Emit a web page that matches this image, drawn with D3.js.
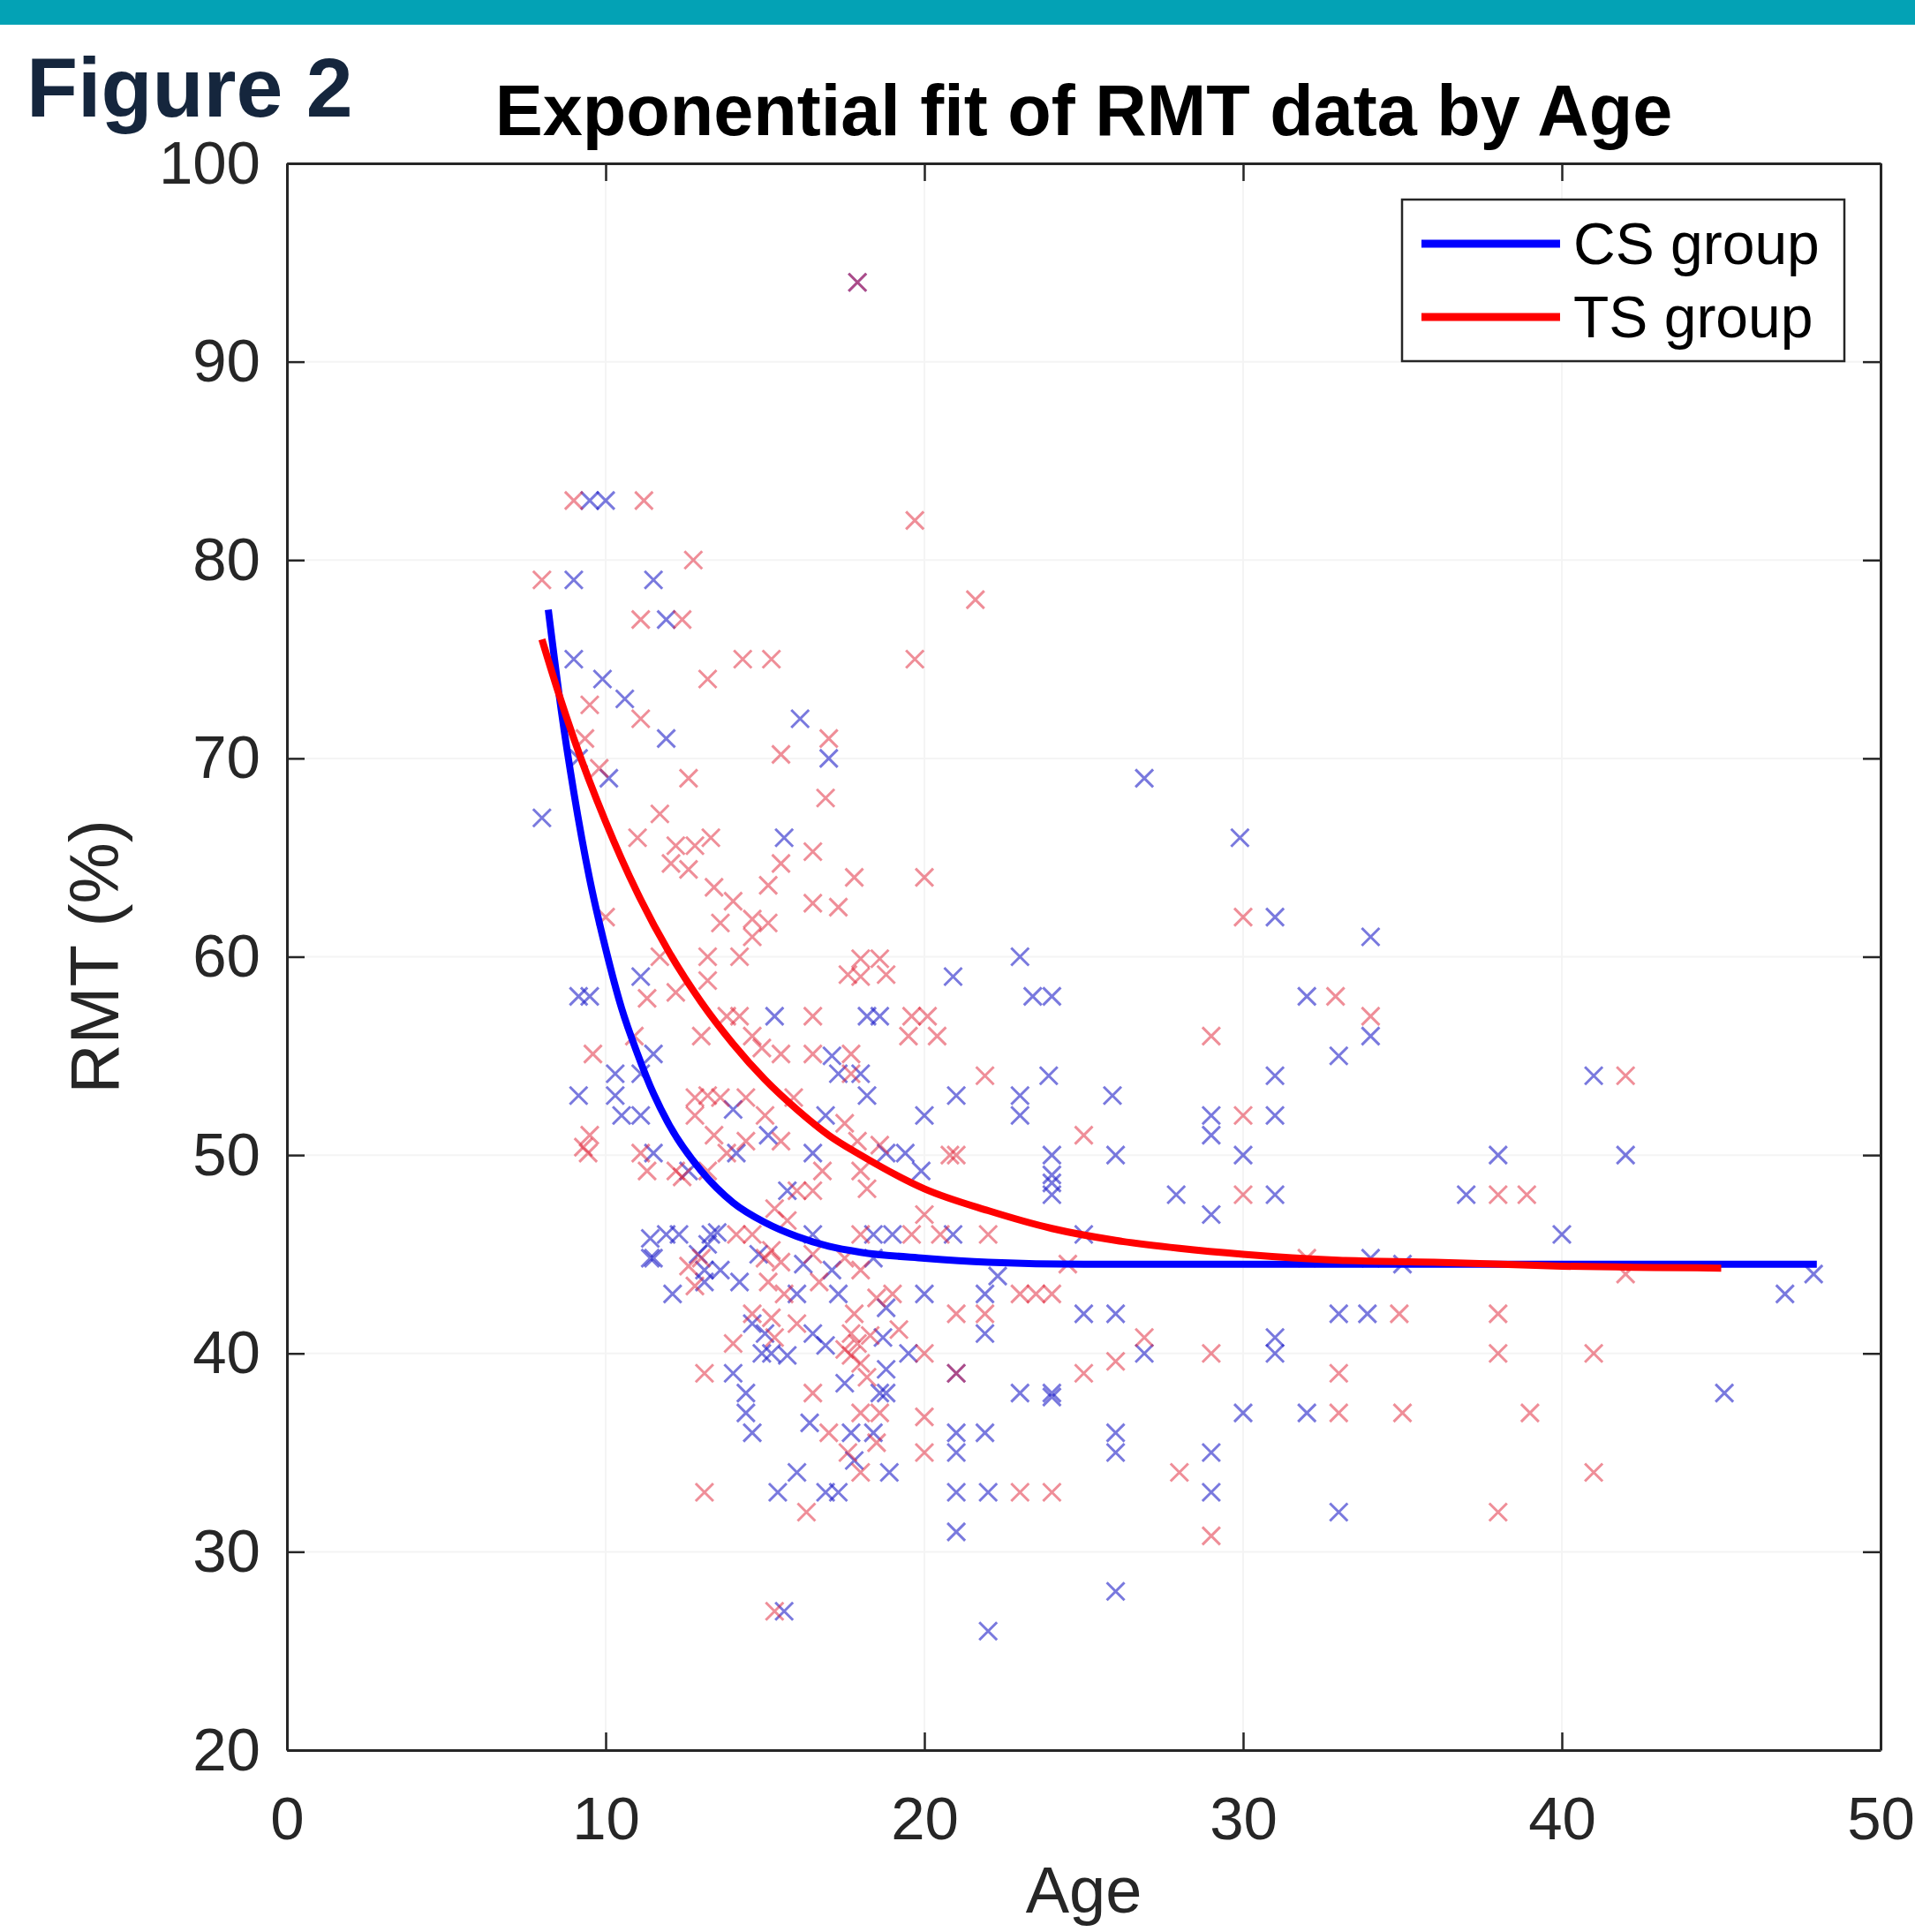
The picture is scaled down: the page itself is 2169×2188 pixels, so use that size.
<!DOCTYPE html>
<html>
<head>
<meta charset="utf-8">
<script src="https://cdn.jsdelivr.net/npm/d3@7"></script>
<style>
  body { margin: 0; background: #fff; }
  text { font-family: "Liberation Sans", Arial, Helvetica, sans-serif; }
</style>
</head>
<body>
<svg id="chart"></svg>
<script>
// ---- data
var xTicks = [0, 10, 20, 30, 40, 50]
var yTicks = [20, 30, 40, 50, 60, 70, 80, 90, 100]
var seriesNames = ["CS group", "TS group"]

// CS group scatter (age, RMT %)
var csAge = [17.9,9.5,10.0,9.0,11.5,11.9,9.0,9.9,10.6,9.15,10.1,11.9,16.1,17.0,26.9,8.0,15.6,11.1,9.15,9.5,15.3,18.2,18.6,20.9,23,23.4,24,29.9,31,32,34,34,33,31,31,29,29,30,31,27.9,29,41,42,38,37,40,35,47,47.9,33,33.9,32,30,31,31,45.1,33,29,29,26.9,26,26,25,26,24,24,23,22,22,21,21,21,21.9,21,21,21.9,21.9,24,24,24,24,23.9,23,23,25.9,26,25,21,20.9,20,19.9,20,18.9,17.3,16.9,16,15.4,15.6,14,14.4,14.4,14.6,14.9,15,14.6,15.7,16.5,16.9,18.7,18.8,18.6,18.8,17.7,18.4,18.8,17.3,16,14.2,13.6,13.1,13.1,12.1,11.5,11.4,11.9,12.3,11.4,13.5,13.3,16.5,18.4,19,18.4,17.1,18.8,19.4,16.5,15.7,16.9,17.3,18,17.1,18.2,14,14.1,15.1,12.6,11.5,10.3,10.5,11.1,9.15,10.3,11.5,11.1,22.3,26,34,12.9,13.2,15.2,17.5,19.5,14.8,16.2,16.4,17.8]
var csRMT = [94,83,83,79,79,77,75,74,73,70,69,71,72,70,69,67,66,59,58,58,57,57,57,59,60,58,58,66,62,58,61,56,55,54,52,52,51,50,48,48,47,54,50,50,48,46,44.5,43,44,42,42,37,37,40.8,40,38,32,35,33,40,36,35,42,28,38,37.8,38,33,26,33,31,36,36,35,39,41,43,48,48.6,49,50,54,53,52,53,50,46,53,46,52,49.2,43,34,33,33,34,33,27,39,38,37,36,40,41,41.5,39.9,41,40.4,40.8,39.2,38,38,36,36,42.3,43,43,43.6,44.2,43.6,44.2,43,44.8,45.8,46,46,44.8,46.1,46,46,46,46,44.8,44.2,50.1,50.1,50.1,48.2,52,54.1,54.1,55,53,52.3,50.1,51,49.2,50.1,53,52,52,53,54.1,55.1,54.1,43.9,42,44.8,45,45.5,40,38.5,40,45,44.5,36.5,34.6]

// TS group scatter (age, RMT %)
var tsAge = [17.9,9.0,11.2,19.7,8.0,12.75,11.1,12.4,21.6,13.2,14.3,15.2,19.7,11.1,9.5,9.35,12.6,17.0,15.5,16.9,16.5,17.8,20,11.7,12.2,12.8,12.05,12.6,13.3,13.4,14.0,14.6,15.1,13.6,14.2,13.2,12.2,13.2,14.2,13.8,14.6,15.5,15.1,16.5,17.3,18,18.6,18.8,18,17.6,19.6,20.1,19.5,20.4,16.5,30,32.9,34,29,30,30,42,38,38.9,34.9,38,38,41,39,35,33,33,41,38,29,28,29,26.9,26,25,24,23,21,21,21.9,23,23.5,24,25,21.9,21,20.8,20.5,20,20,20,18,17.6,16.3,15.3,13.1,13.1,15.3,15.2,14.6,16.5,17.7,17.7,17.9,18,17.5,18.3,18.2,17.8,18.6,18,18.5,16.7,15.6,15.1,13,12.6,12.8,14.1,14.6,15,15.2,15.5,18,19.6,17.5,18,16.5,18,18.2,18.6,17.9,17.5,16.8,16,16.5,15.3,15.7,17.7,17.7,16.5,15.5,14.6,14.9,15.9,14.4,13.6,13.2,12.8,12.8,13.4,13.8,14.4,15,15.5,12.2,12.4,13.2,11.3,11.1,9.5,9.45,9.3,9.6,10.9,11.3,32,42,24.5,14,16,19,20,22,10,13,11.7,9.8,11,18.5,17,19.2]
var tsRMT = [94,83,83,82,79,80,77,77,78,74,75,75,75,72,72.7,71,69,71,70.2,68,65.3,64,64,67.2,65.6,65.6,64.7,64.4,66,63.5,62.8,61.9,61.7,61.7,60,60,58.2,58.8,57,57,61,64.7,63.6,62.7,62.5,59.9,59.9,59.1,59,59.1,57,57,56,56,57,62,58,57,56,52,48,54,48,48,42,42,40,40,37,37,37,39,34,32,30.8,34,40,40.8,39.6,39,33,33,39,42,42,43,43,43,51,54,50,50,46,47,36.8,35,34,35,32,27,33,39,40.8,41.8,42,38,41,39.9,40.5,39.5,40.2,40.9,38.8,42,37,37,42.8,43.6,43,43.6,44.8,44.4,43.4,46,46,44.8,45.2,44.6,46,46,44.8,44.2,45,49.2,48.3,50.5,50.7,51.6,49.2,48.2,48.2,47.3,46.7,54.1,55.1,55.1,55.1,56,55.4,52.9,52.9,52.9,53,52.9,52,51,50.1,50.7,52,50.7,49.2,48.9,49.2,49.2,50.1,51,50.1,50.4,55.1,56,57.9,44.8,44,44.5,40.5,41.5,43,40,46,62,56,60,69.5,66,35.5,36,41.2]

// fitted curves, points
var csFitAge = [8.2, 8.6, 9, 9.5, 10, 10.5, 11, 11.5, 12, 13, 14, 15, 16, 17, 18, 20, 22, 25, 30, 35, 40, 48]
var csFitRMT = [77.5, 72.5, 68.3, 63.9, 60.4, 57.4, 55.1, 53.1, 51.5, 49.2, 47.6, 46.6, 45.9, 45.4, 45.1, 44.8, 44.6, 44.5, 44.5, 44.5, 44.5, 44.5]
var tsFitAge = [8.0, 8.5, 9, 10, 11, 12, 13, 14, 15, 16, 17, 18, 20, 22, 24, 26, 28, 30, 33, 36, 40, 45]
var tsFitRMT = [76.0, 73.4, 71.0, 66.8, 63.2, 60.2, 57.7, 55.6, 53.8, 52.3, 51.0, 50.0, 48.3, 47.2, 46.3, 45.7, 45.3, 45.0, 44.7, 44.6, 44.4, 44.3]

// ---- layout
var W = 2169, H = 2188
var plot = { left: 325, right: 2130, top: 185, bottom: 1982 }
var blue = "#0000ff", red = "#ff0000", axisCol = "#262626"

var svg = d3.select("#chart").attr("width", W).attr("height", H)
svg.append("rect").attr("width", W).attr("height", H).attr("fill", "#fff")
// teal banner on top
svg.append("rect").attr("x", 0).attr("y", 0).attr("width", W).attr("height", 28).attr("fill", "#03a2b5")
svg.append("text").attr("x", 30).attr("y", 132).attr("font-size", 95).attr("font-weight", "bold")
    .attr("fill", "#15263d").text("Figure 2")

var xScale = d3.scaleLinear().domain([0, 50]).range([plot.left, plot.right])
var yScale = d3.scaleLinear().domain([20, 100]).range([plot.bottom, plot.top])

// faint grid
var grid = svg.append("g").attr("class", "grid")
grid.selectAll(".gx").data(xTicks.slice(1, -1)).join("line").attr("class", "gx")
    .attr("x1", d => xScale(d)).attr("x2", d => xScale(d)).attr("y1", plot.top).attr("y2", plot.bottom)
    .attr("stroke", "#f4f4f4").attr("stroke-width", 2)
grid.selectAll(".gy").data(yTicks.slice(1, -1)).join("line").attr("class", "gy")
    .attr("y1", d => yScale(d)).attr("y2", d => yScale(d)).attr("x1", plot.left).attr("x2", plot.right)
    .attr("stroke", "#f4f4f4").attr("stroke-width", 2)

// scatter markers ('x')
var cross = "M-10,-10L10,10M-10,10L10,-10"
var csPts = csAge.map((a, i) => [a, csRMT[i]])
var tsPts = tsAge.map((a, i) => [a, tsRMT[i]])
svg.append("g").selectAll("path").data(csPts).join("path")
    .attr("d", cross).attr("transform", d => "translate(" + xScale(d[0]) + "," + yScale(d[1]) + ")")
    .attr("stroke", "#2020c8").attr("stroke-opacity", 0.6).attr("stroke-width", 3).attr("fill", "none")
svg.append("g").selectAll("path").data(tsPts).join("path")
    .attr("d", cross).attr("transform", d => "translate(" + xScale(d[0]) + "," + yScale(d[1]) + ")")
    .attr("stroke", "#e01e32").attr("stroke-opacity", 0.5).attr("stroke-width", 3).attr("fill", "none")

// fitted lines
var lineGen = d3.line().x(d => xScale(d[0])).y(d => yScale(d[1])).curve(d3.curveMonotoneX)
svg.append("path").attr("d", lineGen(csFitAge.map((a, i) => [a, csFitRMT[i]])))
    .attr("fill", "none").attr("stroke", blue).attr("stroke-width", 8)
svg.append("path").attr("d", lineGen(tsFitAge.map((a, i) => [a, tsFitRMT[i]])))
    .attr("fill", "none").attr("stroke", red).attr("stroke-width", 8)

// axes (inward ticks, box on)
var xAxis = svg.append("g").attr("transform", "translate(0," + plot.bottom + ")")
    .call(d3.axisBottom(xScale).tickValues(xTicks).tickSizeInner(-20).tickSizeOuter(0).tickPadding(52))
var yAxis = svg.append("g").attr("transform", "translate(" + plot.left + ",0)")
    .call(d3.axisLeft(yScale).tickValues(yTicks).tickSizeInner(-20).tickSizeOuter(0).tickPadding(30))
svg.append("g").attr("transform", "translate(0," + plot.top + ")")
    .call(d3.axisTop(xScale).tickValues(xTicks).tickSizeInner(-20).tickSizeOuter(0).tickFormat(""))
svg.append("g").attr("transform", "translate(" + plot.right + ",0)")
    .call(d3.axisRight(yScale).tickValues(yTicks).tickSizeInner(-20).tickSizeOuter(0).tickFormat(""))
svg.selectAll(".domain").attr("stroke", axisCol).attr("stroke-width", 3)
svg.selectAll(".tick line").attr("stroke", axisCol).attr("stroke-width", 2.5)
xAxis.selectAll("text").attr("font-size", 69).attr("fill", axisCol).attr("font-family", "Liberation Sans, Arial, sans-serif")
yAxis.selectAll("text").attr("font-size", 69).attr("fill", axisCol).attr("font-family", "Liberation Sans, Arial, sans-serif")

// titles
var cx = (plot.left + plot.right) / 2, cy = (plot.top + plot.bottom) / 2
svg.append("text").attr("x", cx).attr("y", 153).attr("text-anchor", "middle")
    .attr("font-size", 81).attr("font-weight", "bold").attr("fill", "#000")
    .text("Exponential fit of RMT data by Age")
svg.append("text").attr("x", cx).attr("y", 2166).attr("text-anchor", "middle")
    .attr("font-size", 74).attr("fill", axisCol).text("Age")
svg.append("text").attr("transform", "translate(134," + cy + ") rotate(-90)").attr("text-anchor", "middle")
    .attr("font-size", 78).attr("fill", axisCol).text("RMT (%)")

// legend
var leg = svg.append("g").attr("transform", "translate(1588,226)")
leg.append("rect").attr("width", 501).attr("height", 183).attr("fill", "#fff")
    .attr("stroke", axisCol).attr("stroke-width", 2.5)
leg.selectAll(".li").data(seriesNames).join("line").attr("class", "li")
    .attr("x1", 22).attr("x2", 179).attr("y1", (d, i) => 50 + i * 83).attr("y2", (d, i) => 50 + i * 83)
    .attr("stroke", (d, i) => i == 0 ? blue : red).attr("stroke-width", 9)
leg.selectAll(".lt").data(seriesNames).join("text").attr("class", "lt")
    .attr("x", 194).attr("y", (d, i) => 50 + i * 83 + 23)
    .attr("font-size", 66).attr("fill", "#000").text(d => d)
</script>
</body>
</html>
